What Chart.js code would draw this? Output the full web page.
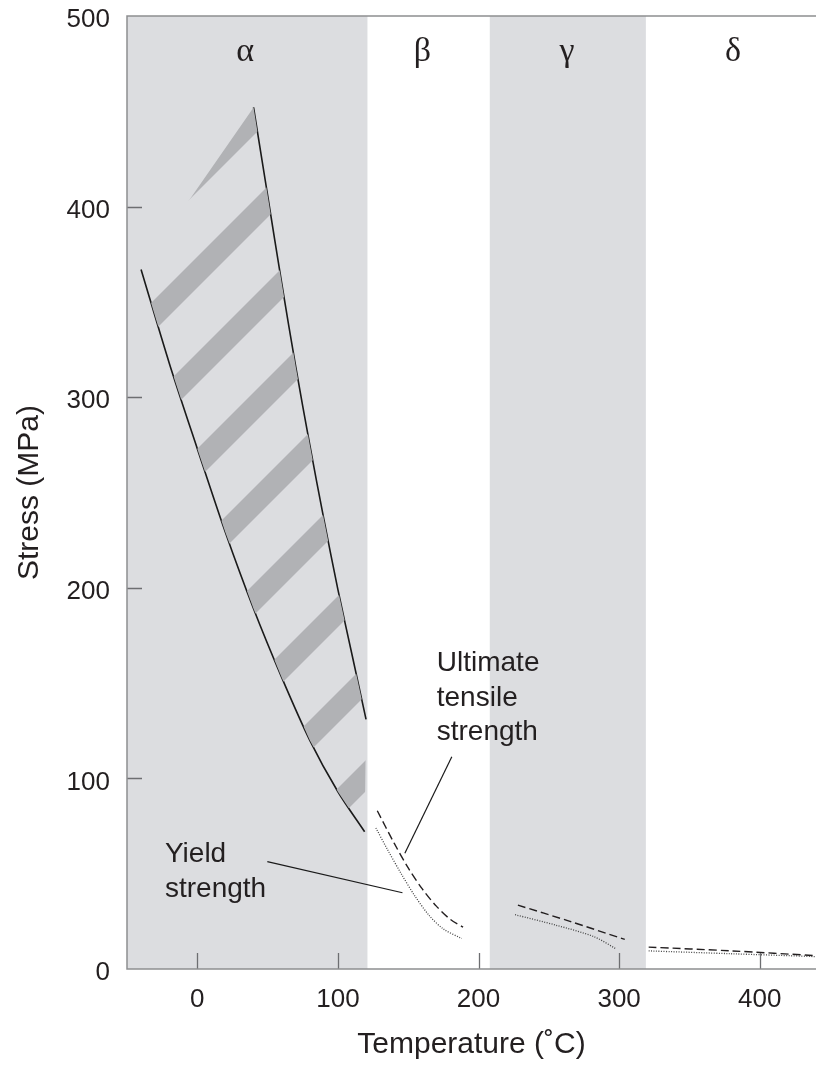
<!DOCTYPE html>
<html>
<head>
<meta charset="utf-8">
<script src="https://cdn.jsdelivr.net/npm/chart.js@4.4.1/dist/chart.umd.min.js"></script>
<style>
  html, body { margin: 0; padding: 0; background: #fff; }
  canvas { display: block; }
</style>
</head>
<body>
<canvas id="chart" width="816" height="1068"></canvas>
<script>
// axis ticks
const xTicks = [0, 100, 200, 300, 400];
const yTicks = [0, 100, 200, 300, 400, 500];

// phase bands (temperature edges) and their names
const bandEdges = [-50, 121, 208, 319, 440];
const bandShaded = [true, false, true, false];
const bandNames = ['α', 'β', 'γ', 'δ'];
const bandLabelT = [34, 160, 263, 381];

// alpha phase: scatter band between yield and UTS (solid curves)
const alphaYieldT = [-40, -20, 0, 20, 40, 60, 80, 100, 119];
const alphaYieldS = [367, 318, 273, 229, 189, 153, 120, 93, 72];
const alphaUtsT = [40, 50, 60, 70, 80, 90, 100, 110, 120];
const alphaUtsS = [452, 406, 360, 316, 275, 236, 199, 165, 131];

// beta
const betaUtsT = [128, 140, 150, 160, 170, 180, 189];
const betaUtsS = [83, 66, 53, 42, 33, 26, 22];
const betaYieldT = [127, 135, 145, 155, 165, 175, 188];
const betaYieldS = [74, 63, 50, 38, 28, 21, 16];

// gamma
const gammaUtsT = [228, 265, 304];
const gammaUtsS = [33.5, 25, 15.5];
const gammaYieldT = [226, 255, 282, 298];
const gammaYieldS = [28.5, 23, 17, 10.5];

// delta
const deltaUtsT = [321, 380, 440];
const deltaUtsS = [11.5, 9.5, 7];
const deltaYieldT = [321, 380, 440];
const deltaYieldS = [9.5, 8, 6.5];

// callout leader lines
const utsLeaderT = [181, 147.6];
const utsLeaderS = [111.4, 60.7];
const yieldLeaderT = [49.8, 145.9];
const yieldLeaderS = [56.3, 40];

// callout text anchors (left edge, first baseline)
const utsLabel = ['Ultimate', 'tensile', 'strength'];
const utsLabelAt = [170.3, 156.3];
const yieldLabel = ['Yield', 'strength'];
const yieldLabelAt = [-23, 56.1];

const FONT = "'Liberation Sans', Arial, Helvetica, sans-serif";
const SERIF = "'Liberation Serif', 'Times New Roman', serif";
const INK = '#231f20';
const AXIS = '#8d8e90';
const BAND = '#dcdde0';

const pts = (xs, ys) => xs.map((x, i) => ({ x: x, y: ys[i] }));

const canvas = document.getElementById('chart');
const ctx = canvas.getContext('2d');

// 45 degree hatching used inside the alpha band
function stripePattern() {
  const c = document.createElement('canvas');
  c.width = 96; c.height = 96;
  const g = c.getContext('2d');
  g.fillStyle = '#b1b2b5';
  for (let k = -2; k <= 2; k++) {
    const c1 = 70 + 96 * k, c2 = 101 + 96 * k;
    g.beginPath();
    g.moveTo(c1 + 100, -100); g.lineTo(c2 + 100, -100);
    g.lineTo(c2 - 200, 200); g.lineTo(c1 - 200, 200);
    g.closePath(); g.fill();
  }
  return ctx.createPattern(c, 'repeat');
}

const hatch = pts(alphaUtsT, alphaUtsS).concat(pts(alphaYieldT, alphaYieldS).reverse());

const solid = { borderColor: '#1a1a1a', borderWidth: 1.6, tension: 0.3 };
const dashed = { borderColor: INK, borderWidth: 1.4, borderDash: [8, 4], tension: 0.3 };
const dotted = { borderColor: '#444', borderWidth: 1.3, borderDash: [1, 1.5], tension: 0.3 };
const leader = { borderColor: '#1a1a1a', borderWidth: 1.2, tension: 0 };

const decor = {
  id: 'decor',
  beforeDatasetsDraw(chart) {
    const { ctx, chartArea: a, scales: { x } } = chart;
    ctx.save();
    ctx.fillStyle = BAND;
    for (let i = 0; i < bandShaded.length; i++) {
      if (!bandShaded[i]) continue;
      const x0 = x.getPixelForValue(bandEdges[i]);
      const x1 = x.getPixelForValue(bandEdges[i + 1]);
      ctx.fillRect(x0, a.top, x1 - x0, a.bottom - a.top);
    }
    ctx.restore();
  },
  afterDatasetsDraw(chart) {
    const { ctx, chartArea: a, scales: { x, y } } = chart;
    ctx.save();
    // inward tick marks
    ctx.strokeStyle = '#6d6e71';
    ctx.lineWidth = 1.3;
    ctx.beginPath();
    xTicks.forEach(v => {
      if (v <= x.min || v >= x.max) return;
      const px = Math.round(x.getPixelForValue(v)) + 0.5;
      ctx.moveTo(px, a.bottom); ctx.lineTo(px, a.bottom - 16);
    });
    yTicks.forEach(v => {
      if (v <= y.min || v >= y.max) return;
      const py = Math.round(y.getPixelForValue(v)) + 0.5;
      ctx.moveTo(a.left, py); ctx.lineTo(a.left + 15, py);
    });
    ctx.stroke();
    // axes + top frame
    ctx.strokeStyle = AXIS;
    ctx.lineWidth = 1.5;
    ctx.beginPath();
    ctx.moveTo(a.right, a.top); ctx.lineTo(a.left, a.top);
    ctx.lineTo(a.left, a.bottom); ctx.lineTo(a.right, a.bottom);
    ctx.stroke();

    // phase names
    ctx.fillStyle = INK;
    ctx.font = '34px ' + SERIF;
    ctx.textAlign = 'center';
    ctx.textBaseline = 'alphabetic';
    bandNames.forEach((n, i) => {
      ctx.fillText(n, x.getPixelForValue(bandLabelT[i]), y.getPixelForValue(476.4));
    });

    // callouts
    ctx.font = '28px ' + FONT;
    ctx.textAlign = 'left';
    const block = (lines, at, gap) => {
      const px = x.getPixelForValue(at[0]);
      const py = y.getPixelForValue(at[1]);
      lines.forEach((t, i) => ctx.fillText(t, px, py + i * gap));
    };
    block(utsLabel, utsLabelAt, 34.5);
    block(yieldLabel, yieldLabelAt, 35);
    ctx.restore();
  }
};

new Chart(ctx, {
  type: 'scatter',
  data: {
    datasets: [
      { data: hatch, showLine: true, fill: 'shape', backgroundColor: stripePattern(),
        borderColor: 'transparent', borderWidth: 0, pointRadius: 0, tension: 0 },
      { data: pts(alphaYieldT, alphaYieldS), showLine: true, pointRadius: 0, ...solid },
      { data: pts(alphaUtsT, alphaUtsS), showLine: true, pointRadius: 0, ...solid },
      { data: pts(betaUtsT, betaUtsS), showLine: true, pointRadius: 0, ...dashed },
      { data: pts(betaYieldT, betaYieldS), showLine: true, pointRadius: 0, ...dotted },
      { data: pts(gammaUtsT, gammaUtsS), showLine: true, pointRadius: 0, ...dashed },
      { data: pts(gammaYieldT, gammaYieldS), showLine: true, pointRadius: 0, ...dotted },
      { data: pts(deltaUtsT, deltaUtsS), showLine: true, pointRadius: 0, ...dashed },
      { data: pts(deltaYieldT, deltaYieldS), showLine: true, pointRadius: 0, ...dotted },
      { data: pts(utsLeaderT, utsLeaderS), showLine: true, pointRadius: 0, ...leader },
      { data: pts(yieldLeaderT, yieldLeaderS), showLine: true, pointRadius: 0, ...leader }
    ]
  },
  options: {
    responsive: false,
    animation: false,
    devicePixelRatio: 1,
    layout: { padding: { top: 16, left: 0, right: 0, bottom: 0 } },
    plugins: { legend: { display: false }, tooltip: { enabled: false } },
    scales: {
      x: {
        type: 'linear', min: -50, max: 440,
        afterFit: s => { s.height = 99; s.paddingLeft = 0; s.paddingRight = 0; },
        afterBuildTicks: s => { s.ticks = xTicks.map(v => ({ value: v })); },
        grid: { display: false }, border: { display: false },
        ticks: { font: { family: FONT, size: 26 }, color: INK, padding: 7 },
        title: { display: true, text: 'Temperature (˚C)', color: INK,
                 font: { family: FONT, size: 30 }, padding: { top: 0, bottom: 5 } }
      },
      y: {
        type: 'linear', min: 0, max: 500,
        afterFit: s => { s.width = 127; s.paddingTop = 0; s.paddingBottom = 0; },
        afterBuildTicks: s => { s.ticks = yTicks.map(v => ({ value: v })); },
        grid: { display: false }, border: { display: false },
        ticks: { font: { family: FONT, size: 26 }, color: INK, padding: 9, labelOffset: 4 },
        title: { display: true, text: 'Stress (MPa)', color: INK,
                 font: { family: FONT, size: 30 }, padding: { top: 12, bottom: 0 } }
      }
    }
  },
  plugins: [decor]
});
</script>
</body>
</html>
